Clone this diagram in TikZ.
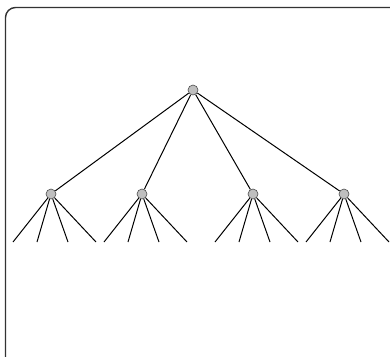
\documentclass[tikz,border=0pt]{standalone}
\begin{document}
\begin{tikzpicture}[x=1pt,y=-1pt,
  vtx/.style={circle,draw=black!70,fill=black!25,line width=0.6pt,minimum size=10pt,inner sep=0pt},
  edge/.style={draw=black,line width=1pt},
  frame/.style={draw=black!80,line width=1.4pt,rounded corners=10pt}]
\useasboundingbox (0,0) rectangle (390,356);
\begin{scope}
\clip (0,0) rectangle (390,356);
\draw[frame] (5.5,7.5) rectangle (400,368);
\end{scope}
\node[vtx] (r) at (193,90) {};
\foreach \i/\x in {1/51,2/142,3/253,4/344}{
  \node[vtx] (n\i) at (\x,194) {};
  \draw[edge] (r) -- (n\i);
  \foreach \j/\d in {1/-38,2/-14,3/17,4/45}{
    \coordinate (l\i\j) at (\x+\d,242);
    \draw[edge] (n\i) -- (l\i\j);
  }
}
\end{tikzpicture}
\end{document}
